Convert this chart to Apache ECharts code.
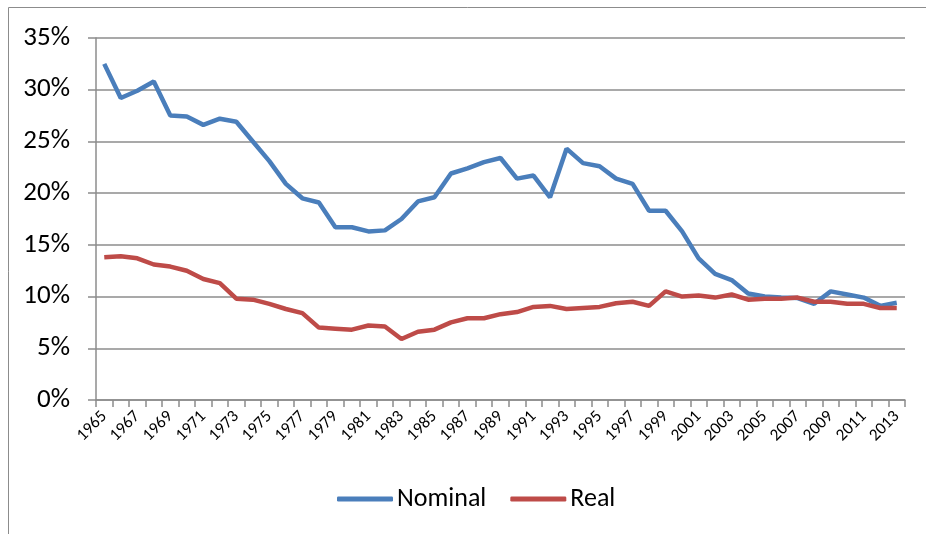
<!DOCTYPE html>
<html>
<head>
<meta charset="utf-8">
<script src="https://cdn.jsdelivr.net/npm/echarts@6/dist/echarts.min.js"></script>
<style>
  html, body { margin: 0; padding: 0; background: #fff; }
  #main { width: 926px; height: 534px; }
</style>
</head>
<body>
<div id="main"></div>
<script>
// years 1965..2013
var years = [];
for (var y = 1965; y <= 2013; y++) years.push(String(y));

var nominal = [
  32.5, 29.2, 29.9, 30.8, 27.5, 27.4, 26.6, 27.2, 26.9, 25.0,
  23.1, 20.9, 19.5, 19.1, 16.7, 16.7, 16.3, 16.4, 17.5, 19.2,
  19.6, 21.9, 22.4, 23.0, 23.4, 21.4, 21.7, 19.6, 24.3, 22.9,
  22.6, 21.4, 20.9, 18.3, 18.3, 16.3, 13.7, 12.2, 11.6, 10.3,
  10.0, 9.9, 9.85, 9.3, 10.5, 10.2, 9.9, 9.1, 9.4
];

var real = [
  13.8, 13.9, 13.7, 13.1, 12.9, 12.5, 11.7, 11.3, 9.8, 9.7,
  9.3, 8.8, 8.4, 7.0, 6.9, 6.8, 7.2, 7.1, 5.9, 6.6,
  6.8, 7.5, 7.9, 7.9, 8.3, 8.5, 9.0, 9.1, 8.8, 8.9,
  9.0, 9.35, 9.5, 9.1, 10.5, 10.0, 10.1, 9.9, 10.2, 9.7,
  9.8, 9.8, 9.9, 9.5, 9.5, 9.3, 9.3, 8.9, 8.9
];

var font = 'Carlito, "Liberation Sans", Arial, sans-serif';

var chart = echarts.init(document.getElementById('main'));
chart.setOption({
  animation: false,
  backgroundColor: '#fff',
  graphic: [{
    type: 'rect',
    shape: { x: 8.5, y: 7.5, width: 1000, height: 1000 },
    style: { fill: 'none', stroke: '#8c8c8c', lineWidth: 1 }
  }],
  grid: { left: 96, right: 21, top: 38, bottom: 134 },
  legend: {
    top: 481,
    left: 332,
    itemWidth: 56,
    itemHeight: 5,
    itemGap: 24,
    icon: 'roundRect',
    textStyle: { fontSize: 26, fontFamily: font, color: '#000', padding: [0, 0, 0, -1] },
    data: ['Nominal', 'Real']
  },
  xAxis: {
    type: 'category',
    data: years,
    boundaryGap: true,
    axisLine: { lineStyle: { color: '#8c8c8c', width: 1.5 } },
    axisTick: { show: true, interval: 0, length: 7, lineStyle: { color: '#8c8c8c', width: 1.5 } },
    axisLabel: {
      interval: 1, rotate: 45, fontSize: 17, fontFamily: font, color: '#000', margin: 14
    }
  },
  yAxis: {
    type: 'value',
    min: 0, max: 35, interval: 5,
    axisLine: { show: true, lineStyle: { color: '#8c8c8c', width: 1.5 } },
    axisTick: { show: true, length: 8, lineStyle: { color: '#8c8c8c', width: 1.5 } },
    axisLabel: {
      formatter: '{value}%', fontSize: 27, fontFamily: font, color: '#000', margin: 26
    },
    splitLine: { lineStyle: { color: '#8c8c8c', width: 1.5 } }
  },
  series: [{
    name: 'Nominal',
    type: 'line',
    data: nominal,
    symbol: 'none',
    color: '#4A7EBB',
    lineStyle: { width: 4.5, color: '#4A7EBB' }
  }, {
    name: 'Real',
    type: 'line',
    data: real,
    symbol: 'none',
    color: '#BE4B48',
    lineStyle: { width: 4.5, color: '#BE4B48' }
  }]
});
</script>
</body>
</html>
